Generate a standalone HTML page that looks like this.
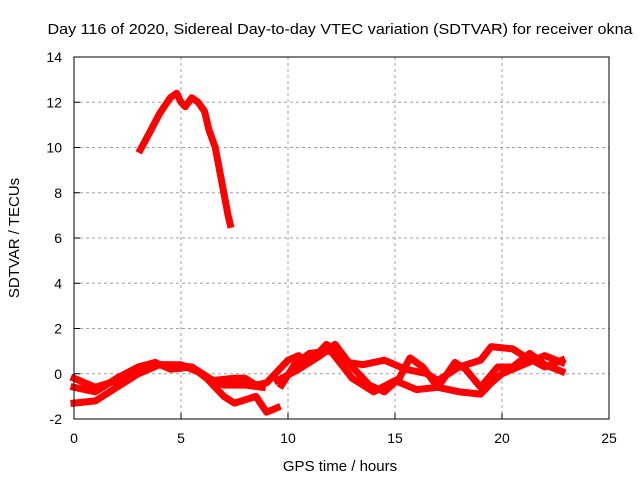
<!DOCTYPE html>
<html><head><meta charset="utf-8"><style>
body{margin:0;background:#fff}
svg{display:block;font-family:"Liberation Sans",sans-serif}
</style></head><body>
<svg id="c" width="640" height="480">
<text x="340" y="34" text-anchor="middle" font-size="15" textLength="585" lengthAdjust="spacingAndGlyphs">Day 116 of 2020, Sidereal Day-to-day VTEC variation (SDTVAR) for receiver okna</text>
<text x="340" y="471" text-anchor="middle" font-size="15">GPS time / hours</text>
<text transform="translate(19,238) rotate(-90)" text-anchor="middle" font-size="15">SDTVAR / TECUs</text>
<g id="grid"></g><g id="series"></g><g id="axes"></g>
</svg>
<script>
const xTicks=[0,5,10,15,20,25];
const yTicks=[-2,0,2,4,6,8,10,12,14];
const arcX=[3.1,3.5,4.0,4.5,4.8,5.0,5.2,5.5,5.8,6.1,6.3,6.6,6.8,7.0,7.2,7.3];
const arcY=[9.9,10.6,11.5,12.2,12.4,12.0,11.8,12.2,12.0,11.6,10.8,10.0,9.0,8.0,7.0,6.6];
const aX=[0,1,2,3,3.5,4.5,5.5,6,6.5,7.5,8,8.5,9,9.5,10,10.5,11,11.8,12.3,12.8,13.5,14.5,15.5,16.5,17,18,19,19.5,20.5,21,22,22.8];
const aY=[-0.2,-0.6,-0.3,0.2,0.4,0.4,0.3,0,-0.3,-0.2,-0.2,-0.5,-0.4,0.1,0.6,0.8,0.5,1.3,0.9,0.5,0.4,0.6,0.2,0,-0.3,0.3,0.6,1.2,1.1,0.8,0.3,0.6];
const bX=[0,1,2,3,4,5,6,7,7.5,8.5,9.0,9.5];
const bY=[-1.3,-1.2,-0.6,0,0.4,0.4,0,-1,-1.3,-1.0,-1.7,-1.5];
const b2X=[9.7,10.3,11,12,12.5,13,14,15,16,17,18,19,19.5,20,21,22,22.8];
const b2Y=[-0.5,0.4,0.9,1.0,0.4,-0.2,-0.8,-0.3,-0.7,-0.6,-0.8,-0.9,-0.4,0,0.4,0.8,0.5];
const cX=[0,1,2,3,3.8,4.5,5.5,6.2,7,8,8.8];
const cY=[-0.6,-0.8,-0.2,0.3,0.5,0.2,0.3,-0.2,-0.5,-0.5,-0.6];
const c2X=[9.5,10.5,11.5,12.2,13,13.8,14.5,15.2,15.7,16.3,17,17.8,18.3,19,19.8,20.5,21.3,22,22.8];
const c2Y=[-0.3,0.2,0.8,1.3,0.3,-0.5,-0.8,-0.2,0.7,0.3,-0.6,0.5,0.2,-0.6,0.3,0.3,0.9,0.4,0.1];
const L=74,R=609,T=57,B=419;
const sx=v=>L+(v-0)/(25-0)*(R-L);
const sy=v=>B-(v+2)/(16)*(B-T);
const NS="http://www.w3.org/2000/svg";
function mk(t,a,p){const e=document.createElementNS(NS,t);for(const k in a)e.setAttribute(k,a[k]);p.appendChild(e);return e;}
const grid=document.getElementById('grid'),axes=document.getElementById('axes'),ser=document.getElementById('series');
xTicks.forEach(t=>{
 if(t>0&&t<25){const g=mk('line',{x1:sx(t),x2:sx(t),y1:T,y2:B,stroke:'#a0a0a0','stroke-dasharray':'3,3'},grid);
 
 }
 const tk=mk('line',{x1:sx(t),x2:sx(t),y1:B,y2:B-6,stroke:'#000'},axes);
 
 
 const lb=mk('text',{x:sx(t),y:B+24,'text-anchor':'middle','font-size':14},axes);lb.textContent=t;
 
 
});
yTicks.forEach(t=>{
 if(t>-2&&t<14){const g=mk('line',{x1:L,x2:R,y1:sy(t),y2:sy(t),stroke:'#a0a0a0','stroke-dasharray':'3,3'},grid);
 
 }
 const tk=mk('line',{x1:L,x2:L+6,y1:sy(t),y2:sy(t),stroke:'#000'},axes);
 
 
 const lb=mk('text',{x:L-12,y:sy(t)+5,'text-anchor':'end','font-size':14},axes);lb.textContent=t;
 
 
});
const fr=mk('rect',{x:L,y:T,width:R-L,height:B-T,fill:'none',stroke:'#000'},axes);


[[arcX,arcY,'arc-series'],[aX,aY,'track-a'],[bX,bY,'track-b'],[b2X,b2Y,'track-b2'],[cX,cY,'track-c'],[c2X,c2Y,'track-c2']].forEach(([xs,ys,n])=>{
 const pts=xs.map((x,i)=>sx(x)+','+sy(ys[i])).join(' ');
 const p=mk('polyline',{points:pts,fill:'none',stroke:'#ff0000','stroke-width':7,'stroke-linejoin':'round','stroke-linecap':'square'},ser);
 
 
});
</script>
</body></html>
